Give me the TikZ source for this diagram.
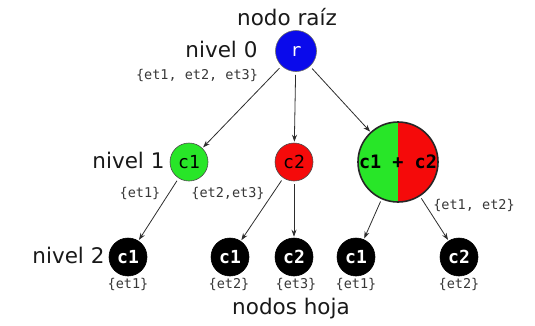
\documentclass[tikz,border=0pt]{standalone}
\usepackage{fontspec}
\setmainfont{DejaVu Sans}
\setmonofont{DejaVu Sans Mono}
\usetikzlibrary{arrows.meta}
\definecolor{nodeblue}{RGB}{10,10,235}
\definecolor{nodegreen}{RGB}{40,230,40}
\definecolor{nodered}{RGB}{245,10,10}
\definecolor{txtdark}{RGB}{25,25,25}
\definecolor{txtgray}{RGB}{55,55,55}
\definecolor{edgegray}{RGB}{45,45,45}
\begin{document}
\begin{tikzpicture}[x=1pt,y=-1pt,
  tnode/.style={circle,minimum size=38pt,inner sep=0pt,draw=black!70,line width=0.6pt,
    font=\ttfamily\fontsize{18}{18}\selectfont},
  leaf/.style={tnode,fill=black,text=white,draw=black,font=\ttfamily\bfseries\fontsize{18}{18}\selectfont},
  level/.style={text=txtdark,font=\fontsize{21.5}{21.5}\selectfont},
  tags/.style={text=txtgray,font=\ttfamily\fontsize{13.5}{13.5}\selectfont},
  edge/.style={draw=edgegray,line width=0.8pt,-{Stealth[length=7pt,width=5pt]},
    shorten <=3pt,shorten >=1pt}]
\useasboundingbox (0,0) rectangle (535,325);

% root
\node[tnode,minimum size=41pt,fill=nodeblue,text=white,draw=black!60] (r) at (296,51) {r};
\node[level,anchor=south] (rootlbl) at (287,29) {nodo raíz};
\node[level,anchor=east] (lv0) at (261,49) {nivel 0};
\node[tags] (t0) at (197,75) {\{et1, et2, et3\}};

% level 1
\node[tnode,fill=nodegreen] (a1) at (189,162) {c1};
\node[tnode,fill=nodered] (a2) at (294,162) {c2};
\node[circle,minimum size=80pt,inner sep=0pt] (a3) at (398,162) {};
\begin{scope}
  \clip (358,122) rectangle (398,202);
  \fill[nodegreen] (a3.center) circle (40pt);
\end{scope}
\begin{scope}
  \clip (398,122) rectangle (440,202);
  \fill[nodered] (a3.center) circle (40pt);
\end{scope}
\draw[line width=1.6pt,black!85] (a3.center) circle (40pt);
\node[font=\ttfamily\bfseries\fontsize{18.5}{18.5}\selectfont] (a3txt) at (a3.center) {c1 + c2};
\node[level,anchor=east] (lv1) at (168,160) {nivel 1};
\node[tags] (t1a) at (140,193) {\{et1\}};
\node[tags] (t1b) at (228,193) {\{et2,et3\}};
\node[tags] (t1c) at (474,205) {\{et1, et2\}};

% level 2
\node[leaf] (b1) at (128,257) {c1};
\node[leaf] (b2) at (230,257) {c1};
\node[leaf] (b3) at (294,257) {c2};
\node[leaf] (b4) at (356,257) {c1};
\node[leaf] (b5) at (459,257) {c2};
\node[level,anchor=east] (lv2) at (108,255) {nivel 2};
\node[tags] (t2a) at (128,284) {\{et1\}};
\node[tags] (t2b) at (229,284) {\{et2\}};
\node[tags] (t2c) at (296,284) {\{et3\}};
\node[tags] (t2d) at (356,284) {\{et1\}};
\node[tags] (t2e) at (459,284) {\{et2\}};
\node[level] (leaflbl) at (291,309) {nodos hoja};

% edges
\draw[edge] (r) -- (a1);
\draw[edge] (r) -- (a2);
\draw[edge] (r) -- (a3);
\draw[edge] (a1) -- (b1);
\draw[edge] (a2) -- (b2);
\draw[edge] (a2) -- (b3);
\draw[edge] (a3) -- (b4);
\draw[edge] (a3) -- (b5);
\end{tikzpicture}
\end{document}
